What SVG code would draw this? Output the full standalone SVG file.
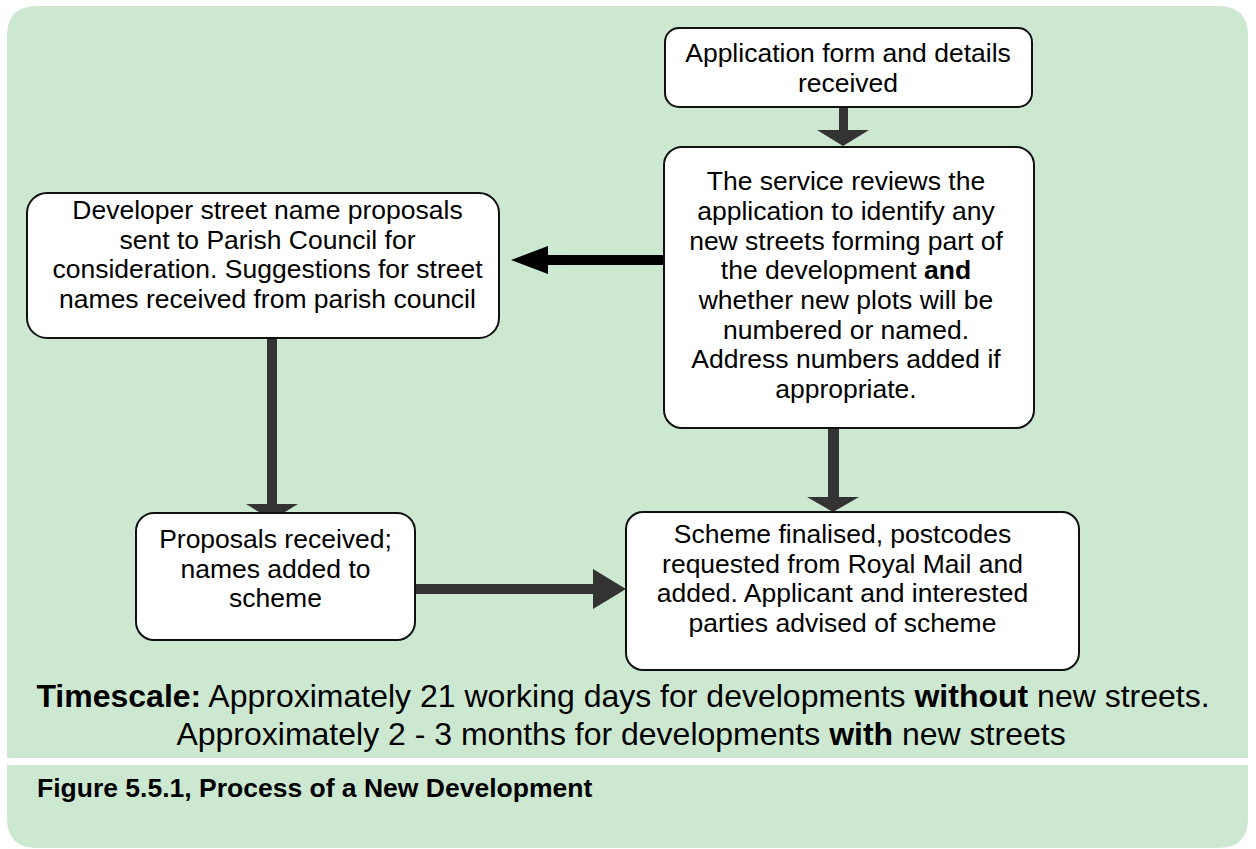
<svg xmlns="http://www.w3.org/2000/svg" width="1256" height="849" viewBox="0 0 1256 849">
  <style>
    .panel { fill: #cde8d0; }
    .box { fill: #ffffff; stroke: #111111; stroke-width: 2; }
    .t { font-family: "Liberation Sans", Arial, sans-serif; font-size: 26.5px; fill: #000000; text-anchor: middle; }
    .ts { font-family: "Liberation Sans", Arial, sans-serif; font-size: 32px; fill: #000000; text-anchor: middle; }
    .cap { font-family: "Liberation Sans", Arial, sans-serif; font-size: 26.5px; font-weight: bold; fill: #000000; }
    .b { font-weight: bold; }
    .arr { fill: #333333; }
    .arrk { fill: #000000; }
  </style>

  <g id="background">
    <path class="panel" d="M7 758 V36 Q7 6 37 6 H1218 Q1248 6 1248 36 V758 Z"/>
    <path class="panel" d="M7 765 H1248 V818 Q1248 848 1218 848 H37 Q7 848 7 818 Z"/>
  </g>

  <g id="connectors">
    <!-- application -> service -->
    <rect class="arr" x="839" y="107" width="9" height="24"/>
    <polygon class="arr" points="817,130 869,130 843,146"/>
    <!-- service -> developer -->
    <rect class="arrk" x="546" y="255" width="119" height="10"/>
    <polygon class="arrk" points="548,246 511,260 548,274"/>
    <!-- developer -> proposals -->
    <rect class="arr" x="267" y="338" width="10" height="167"/>
    <polygon class="arr" points="246,504 298,504 272,520"/>
    <!-- service -> scheme -->
    <rect class="arr" x="828" y="428" width="11" height="70"/>
    <polygon class="arr" points="807,497 859,497 833,512"/>
    <!-- proposals -> scheme -->
    <rect class="arr" x="414" y="584" width="180" height="10"/>
    <polygon class="arr" points="593,569 626,589 593,609"/>
  </g>

  <g id="node-application">
    <rect class="box" x="665" y="28" width="367" height="79" rx="14"/>
    <text class="t" x="848" y="62">Application form and details</text>
    <text class="t" x="848" y="92">received</text>
  </g>

  <g id="node-service">
    <rect class="box" x="664" y="147" width="370" height="281" rx="18"/>
    <text class="t" x="846" y="190">The service reviews the</text>
    <text class="t" x="846" y="220">application to identify any</text>
    <text class="t" x="846" y="249.5">new streets forming part of</text>
    <text class="t" x="846" y="279.3">the development <tspan class="b">and</tspan></text>
    <text class="t" x="846" y="309">whether new plots will be</text>
    <text class="t" x="846" y="338.8">numbered or named.</text>
    <text class="t" x="846" y="368.3">Address numbers added if</text>
    <text class="t" x="846" y="398.3">appropriate.</text>
  </g>

  <g id="node-developer">
    <rect class="box" x="27" y="193" width="472" height="145" rx="20"/>
    <text class="t" x="267.5" y="219">Developer street name proposals</text>
    <text class="t" x="267.5" y="248.5">sent to Parish Council for</text>
    <text class="t" x="267.5" y="278">consideration. Suggestions for street</text>
    <text class="t" x="267.5" y="307.7">names received from parish council</text>
  </g>

  <g id="node-proposals">
    <rect class="box" x="136" y="513" width="279" height="127" rx="18"/>
    <text class="t" x="275.5" y="548">Proposals received;</text>
    <text class="t" x="275.5" y="577.5">names added to</text>
    <text class="t" x="275.5" y="607">scheme</text>
  </g>

  <g id="node-scheme">
    <rect class="box" x="626" y="512" width="453" height="158" rx="17"/>
    <text class="t" x="842.5" y="543">Scheme finalised, postcodes</text>
    <text class="t" x="842.5" y="572.7">requested from Royal Mail and</text>
    <text class="t" x="842.5" y="602.3">added. Applicant and interested</text>
    <text class="t" x="842.5" y="632">parties advised of scheme</text>
  </g>

  <g id="timescale">
    <text class="ts" x="623" y="707"><tspan class="b">Timescale:</tspan> Approximately 21 working days for developments <tspan class="b">without</tspan> new streets.</text>
    <text class="ts" x="621" y="745">Approximately 2 - 3 months for developments <tspan class="b">with</tspan> new streets</text>
  </g>

  <g id="caption">
    <text class="cap" x="37" y="797">Figure 5.5.1, Process of a New Development</text>
  </g>
</svg>
